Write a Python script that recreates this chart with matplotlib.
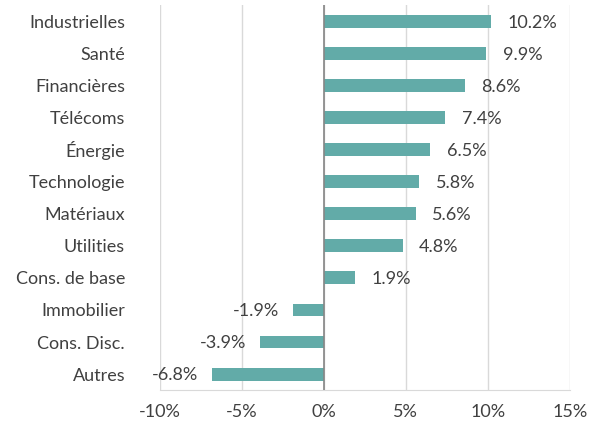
import matplotlib
matplotlib.use("Agg")
import matplotlib.pyplot as plt
from matplotlib.ticker import FuncFormatter

categories = ["Industrielles", "Santé", "Financières", "Télécoms", "Énergie", "Technologie",
              "Matériaux", "Utilities", "Cons. de base", "Immobilier", "Cons. Disc.", "Autres"]
values = [10.2, 9.9, 8.6, 7.4, 6.5, 5.8, 5.6, 4.8, 1.9, -1.9, -3.9, -6.8]
xticks = [-10, -5, 0, 5, 10, 15]

plt.rcParams['font.family'] = ['Lato', 'DejaVu Sans']
text_color = "#404040"
bar_color = "#62ABA8"
fs = 13

fig = plt.figure(figsize=(6.03, 4.25), dpi=100)
ax = fig.add_axes([0.265, 0.082, 0.68, 0.906])

y = list(range(len(categories)))
ax.barh(y, values, height=0.4, color=bar_color, zorder=3)
ax.set_ylim(len(categories) - 0.5, -0.5)
ax.set_xlim(-10, 15)
ax.set_xticks(xticks)
ax.xaxis.set_major_formatter(FuncFormatter(lambda v, p: f"{v:.0f}%"))
ax.set_yticks(y)
ax.set_yticklabels(categories)

ax.grid(axis='x', color="#D9D9D9", linewidth=1, zorder=0)
ax.axvline(0, color="#868686", linewidth=1.2, zorder=4)
for s in ["top", "right", "left"]:
    ax.spines[s].set_visible(False)
ax.spines["bottom"].set_color("#D9D9D9")
ax.tick_params(axis='both', length=0, labelsize=fs, colors=text_color)
ax.tick_params(axis='x', pad=10)
ax.tick_params(axis='y', pad=25)

for yi, v in zip(y, values):
    if v >= 0:
        ax.annotate(f"{v:.1f}%", (v, yi), xytext=(12, -1), textcoords="offset points",
                    ha="left", va="center", fontsize=fs, color=text_color)
    else:
        ax.annotate(f"{v:.1f}%", (v, yi), xytext=(-10, -1), textcoords="offset points",
                    ha="right", va="center", fontsize=fs, color=text_color, zorder=5)

fig.savefig("out.png", dpi=100)
